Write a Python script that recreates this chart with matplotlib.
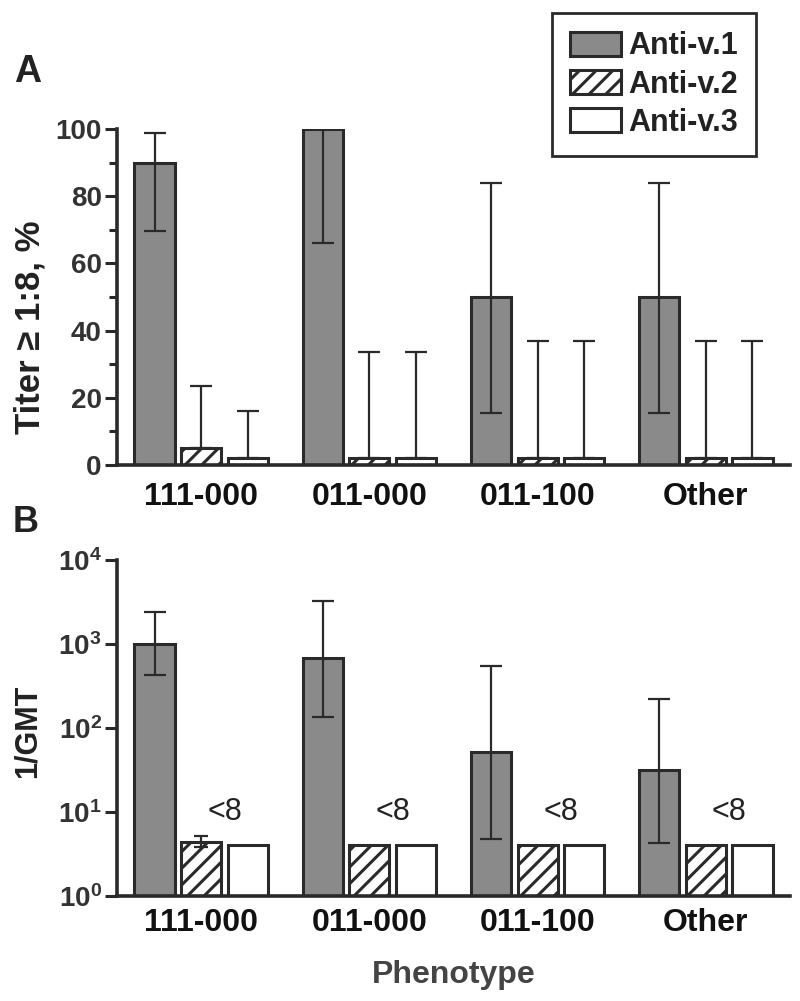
import numpy as np
import matplotlib
matplotlib.use("Agg")
import matplotlib.pyplot as plt

plt.rcParams['font.family'] = ['Liberation Sans', 'DejaVu Sans']
plt.rcParams['hatch.linewidth'] = 2.2
plt.rcParams['hatch.color'] = '#222222'

# Datos
fenotipos = ['111-000', '011-000', '011-100', 'Other']
series = ['Anti-v.1', 'Anti-v.2', 'Anti-v.3']

# Panel A: % con titulo >= 1:8
pct_v1 = [90, 100, 50, 50]
pct_v1_lo = [69.5, 66, 15.5, 15.5]
pct_v1_hi = [98.8, 100, 84, 84]
pct_v2 = [5, 2, 2, 2]
pct_v2_hi = [23.5, 33.5, 37, 37]
pct_v3 = [2, 2, 2, 2]
pct_v3_hi = [16, 33.5, 37, 37]

# Panel B: 1/GMT
gmt_v1 = [1000, 680, 52, 32]
gmt_v1_lo = [427, 135, 4.8, 4.3]
gmt_v1_hi = [2400, 3250, 550, 223]
gmt_v2 = [4.4, 4, 4, 4]
gmt_v2_lo = [3.8, 4, 4, 4]
gmt_v2_hi = [5.2, 4, 4, 4]
gmt_v3 = [4, 4, 4, 4]
etiqueta_min = '<8'

# Estilos
gris = '#8a8a8a'
borde = '#2a2a2a'
texto = '#222222'
ancho = 0.238
desp = 0.277
lw_borde = 2.2

x = np.arange(len(fenotipos))

fig = plt.figure(figsize=(8, 10.01), dpi=100)
axA = fig.add_axes([0.14625, 0.5355, 0.84125, 0.3357])
axB = fig.add_axes([0.14625, 0.1049, 0.84125, 0.3357])

err_kw = dict(ecolor=borde, elinewidth=1.6, capsize=8, capthick=1.6)


def barras(ax, v1, v2, v3):
    b1 = ax.bar(x - desp, v1, ancho, color=gris, edgecolor=borde,
                linewidth=lw_borde, label=series[0], zorder=2)
    b2 = ax.bar(x, v2, ancho, color='white', edgecolor=borde,
                linewidth=lw_borde, hatch='//', label=series[1], zorder=2)
    b3 = ax.bar(x + desp, v3, ancho, color='white', edgecolor=borde,
                linewidth=lw_borde, label=series[2], zorder=2)
    return b1, b2, b3


#%% Panel A
hA = barras(axA, pct_v1, pct_v2, pct_v3)
axA.errorbar(x - desp, pct_v1,
             yerr=[np.array(pct_v1) - np.array(pct_v1_lo), np.array(pct_v1_hi) - np.array(pct_v1)],
             fmt='none', zorder=3, **err_kw)
axA.errorbar(x, pct_v2, yerr=[np.zeros(4), np.array(pct_v2_hi) - np.array(pct_v2)],
             fmt='none', zorder=1, **err_kw)
axA.errorbar(x + desp, pct_v3, yerr=[np.zeros(4), np.array(pct_v3_hi) - np.array(pct_v3)],
             fmt='none', zorder=1, **err_kw)
axA.set_ylim(0, 100)
axA.set_yticks([0, 20, 40, 60, 80, 100])
axA.set_yticks([10, 30, 50, 70, 90], minor=True)

#%% Panel B
hB = barras(axB, gmt_v1, gmt_v2, gmt_v3)
axB.errorbar(x - desp, gmt_v1,
             yerr=[np.array(gmt_v1) - np.array(gmt_v1_lo), np.array(gmt_v1_hi) - np.array(gmt_v1)],
             fmt='none', zorder=3, **err_kw)
axB.errorbar(x[:1], gmt_v2[:1],
             yerr=[[gmt_v2[0] - gmt_v2_lo[0]], [gmt_v2_hi[0] - gmt_v2[0]]],
             fmt='none', zorder=3, ecolor=borde, elinewidth=1.6, capsize=5, capthick=1.6)
axB.set_yscale('log')
axB.set_ylim(1, 1e4)
axB.set_yticks([1, 10, 100, 1000, 10000])
axB.yaxis.set_minor_locator(matplotlib.ticker.NullLocator())
for i in x:
    axB.text(i + desp / 2, 10, etiqueta_min, ha='center', va='center',
             fontsize=22, color=texto)

for ax, pad in ((axA, 12), (axB, 9)):
    ax.set_xlim(-0.5, 3.5)
    ax.set_xticks(x)
    ax.set_xticklabels(fenotipos, fontsize=23, fontweight='bold', color='#111111')
    ax.tick_params(axis='x', length=0, pad=pad)
    ax.tick_params(axis='y', which='major', length=9, width=2.2, color=borde,
                   labelsize=20, labelcolor='#333333', pad=2)
    ax.tick_params(axis='y', which='minor', length=6, width=2.2, color=borde)
    for lab in ax.get_yticklabels():
        lab.set_fontweight('bold')
    for s in ('top', 'right'):
        ax.spines[s].set_visible(False)
    for s in ('left', 'bottom'):
        ax.spines[s].set_linewidth(2.6)
        ax.spines[s].set_color(borde)

#%% Textos
fig.text(0.037, 1 - 327 / 1001, 'Titer \u2265 1:8, %', rotation=90, ha='center',
         va='center', fontsize=25, fontweight='bold', color=texto)
fig.text(0.034, 1 - 731 / 1001, '1/GMT', rotation=90, ha='center',
         va='center', fontsize=22, fontweight='bold', color=texto)
fig.text(0.567, 0.026, 'Phenotype', ha='center', va='center', fontsize=23,
         fontweight='bold', color='#444444')
fig.text(0.034, 1 - 72 / 1001, 'A', ha='center', va='center', fontsize=27,
         fontweight='bold', color=texto)
fig.text(0.032, 1 - 523 / 1001, 'B', ha='center', va='center', fontsize=26,
         fontweight='bold', color=texto)

leg = fig.legend(hA, series, loc='upper left', bbox_to_anchor=(0.69, 0.987),
                 borderaxespad=0, fontsize=22, handlelength=1.65, handleheight=0.85,
                 handletextpad=0.25, labelspacing=0.27, borderpad=0.6,
                 fancybox=False, edgecolor=borde, framealpha=1)
leg.get_frame().set_linewidth(2)
for t in leg.get_texts():
    t.set_fontweight('bold')
    t.set_color(texto)

plt.savefig('out.png', dpi=100)
